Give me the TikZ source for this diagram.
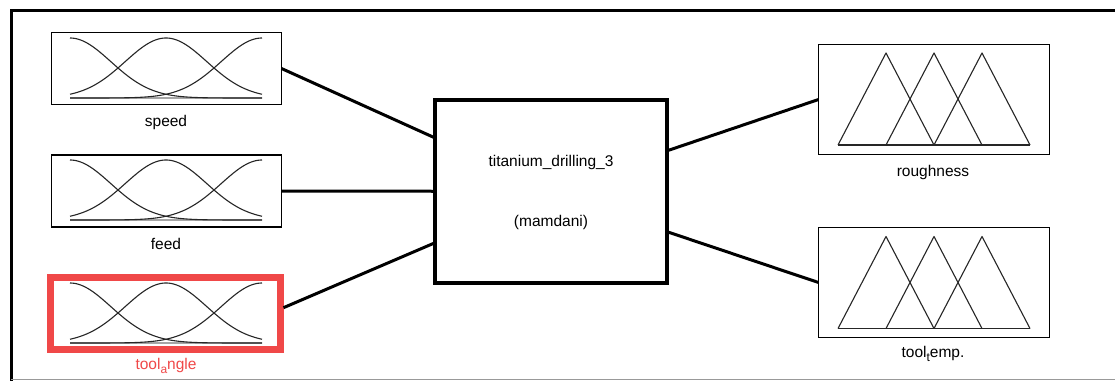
\documentclass[tikz,border=0pt]{standalone}
\usepackage{fontspec}
\setmainfont{Liberation Sans}
\usetikzlibrary{calc}
\definecolor{hl}{RGB}{240,72,72}
\tikzset{
  mfbox/.style={draw=black, line width=1.5pt, inner sep=0pt, outer sep=0pt, minimum width=230pt, minimum height=72pt},
  outbox/.style={draw=black, line width=1.5pt, inner sep=0pt, outer sep=0pt, minimum width=231pt, minimum height=110pt},
  fisbox/.style={draw=black, line width=4pt, inner sep=0pt, outer sep=0pt, minimum width=231.5pt, minimum height=183.5pt},
  conn/.style={draw=black, line width=3pt},
  mfline/.style={draw=black!85, line width=1.1pt, line join=round},
  lbl/.style={font=\fontsize{15.5}{18}\selectfont, inner sep=0pt},
  gauss/.pic={
    \draw[gray!70, line width=1.2pt] (0,60) -- (192,60);
    \foreach \c in {0,96,192}
      \draw[mfline] plot[domain=0:192, samples=90, smooth] (\x,{60-60*exp(-0.5*((\x-\c)/40.8)^2)});
  },
  tri/.pic={
    \draw[mfline] (0,92) -- (192,92);
    \draw[mfline] (0,92) -- (48,0) -- (96,92);
    \draw[mfline] (48,92) -- (96,0) -- (144,92);
    \draw[mfline] (96,92) -- (144,0) -- (192,92);
  }
}
\newcommand{\subtxt}[1]{\raisebox{-0.5ex}{\fontsize{12}{13}\selectfont #1}}
\begin{document}
\begin{tikzpicture}[x=1pt, y=-1pt]
\useasboundingbox (0,0) rectangle (1115,381);
\fill[white] (0,0) rectangle (1115,381);
% outer frame
\draw[black, line width=3pt] (1115,10) -- (11,10) -- (11,381);
\draw[gray!80, line width=1pt] (11,379.5) -- (1115,379.5);

% input MF boxes
\node[mfbox] (speed) at (166.5,68.5) {};
\pic at (70,38) {gauss};
\node[lbl] (speedlbl) at (166,122) {speed};

\node[mfbox] (feed) at (166.5,191) {};
\pic at (70,160) {gauss};
\node[lbl] (feedlbl) at (166,244) {feed};

\node[mfbox, draw=hl, line width=7pt, minimum width=229.5pt, minimum height=72.5pt, outer sep=3.5pt] (ta) at (165.25,313.25) {};
\pic at (70,283) {gauss};
\node[lbl, text=hl] (talbl) at (166,366) {tool\subtxt{a}ngle};

% FIS box
\node[fisbox] (fis) at (551,191.25) {};
\node[lbl] (fisname) at (551,162) {titanium\_drilling\_3};
\node[lbl] (fistype) at (551,222) {(mamdani)};

% output MF boxes
\node[outbox] (rough) at (934,99.5) {};
\pic at (838,53) {tri};
\node[lbl] (roughlbl) at (933,172) {roughness};

\node[outbox] (temp) at (934,282.5) {};
\pic at (838,236.5) {tri};
\node[lbl] (templbl) at (933,354) {tool\subtxt{t}emp.};

% connectors
\draw[conn] (speed.east) -- ($(fis.north west)!0.21!(fis.south west)$);
\draw[conn] (feed.east) -- (fis.west);
\draw[conn] ($(ta.north east)!0.43!(ta.south east)$) -- ($(fis.north west)!0.78!(fis.south west)$);
\draw[conn] ($(fis.north east)!0.28!(fis.south east)$) -- (rough.west);
\draw[conn] ($(fis.north east)!0.72!(fis.south east)$) -- (temp.west);
\end{tikzpicture}
\end{document}
